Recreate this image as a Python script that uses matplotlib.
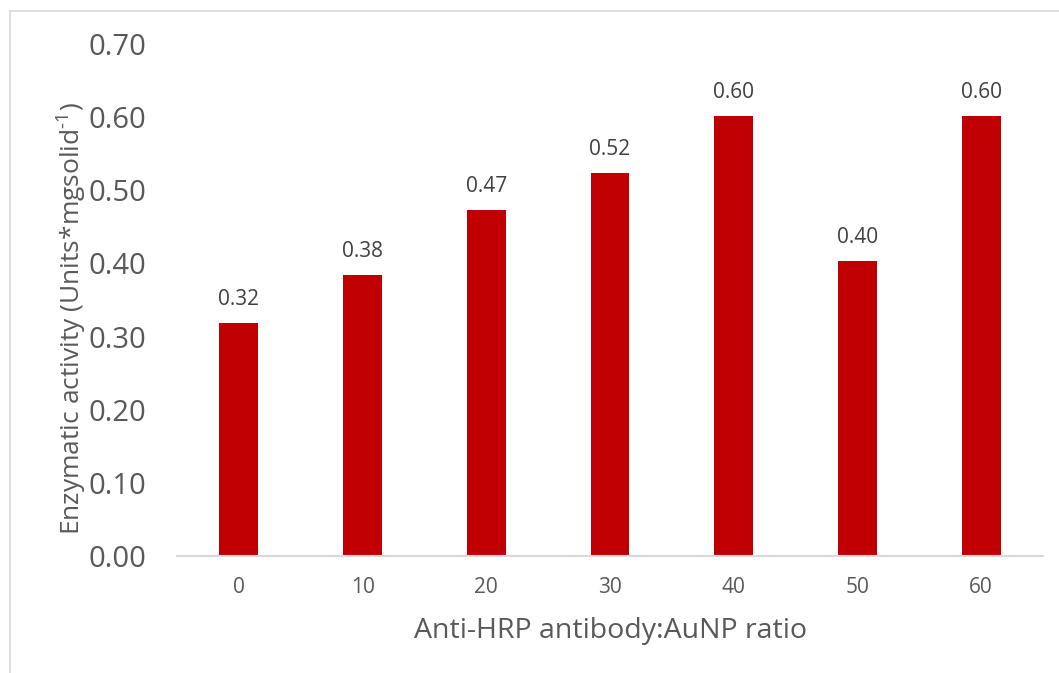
import numpy as np
import matplotlib.pyplot as plt
from matplotlib.lines import Line2D

plt.rcParams['font.family'] = ['Open Sans', 'DejaVu Sans']
plt.rcParams['mathtext.fontset'] = 'custom'
plt.rcParams['mathtext.rm'] = 'Open Sans'
plt.rcParams['mathtext.it'] = 'Open Sans'

ratios = ['0', '10', '20', '30', '40', '50', '60']
activity = [0.319, 0.384, 0.473, 0.523, 0.602, 0.403, 0.602]
yticks = [0.0, 0.1, 0.2, 0.3, 0.4, 0.5, 0.6, 0.7]

fig = plt.figure(figsize=(10.59, 6.73), dpi=100)
ax = fig.add_axes([177 / 1059, 1 - 556 / 673, (1043 - 177) / 1059, (556 - 44) / 673])

x = np.arange(len(ratios))
ax.bar(x, activity, width=0.315, color='#C00000', zorder=2)

for xi, v in zip(x, activity):
    ax.annotate('%.2f' % v, (xi, v), xytext=(0, 13), textcoords='offset points',
                ha='center', va='baseline', fontsize=15, color='#404040')

ax.set_xlim(-0.5, len(ratios) - 0.5)
ax.set_ylim(0, 0.7)
ax.set_xticks(x)
ax.set_xticklabels(ratios)
ax.set_yticks(yticks)
ax.set_yticklabels(['%.2f' % t for t in yticks])
ax.tick_params(axis='x', length=0, pad=15, labelsize=15, labelcolor='#595959')
ax.tick_params(axis='y', length=0, pad=22, labelsize=21, labelcolor='#595959')

for s in ['top', 'right', 'left']:
    ax.spines[s].set_visible(False)
ax.spines['bottom'].set_color('#D9D9D9')
ax.spines['bottom'].set_linewidth(1.5)

ax.set_xlabel('Anti-HRP antibody:AuNP ratio', fontsize=20.5, color='#595959', labelpad=14)
ax.set_ylabel(r'Enzymatic activity (Units*mgsolid$^{\mathregular{\text{-1}}}$)',
              fontsize=19, color='#595959')
ax.yaxis.set_label_coords(-0.102, 0.463)

# outer chart border (only left and top are inside the image)
fig.add_artist(Line2D([10 / 1059, 10 / 1059], [0, 1 - 11 / 673], color='#D9D9D9', lw=1.2))
fig.add_artist(Line2D([10 / 1059, 1], [1 - 11 / 673, 1 - 11 / 673], color='#D9D9D9', lw=1.2))

fig.savefig('out.png', dpi=100)
